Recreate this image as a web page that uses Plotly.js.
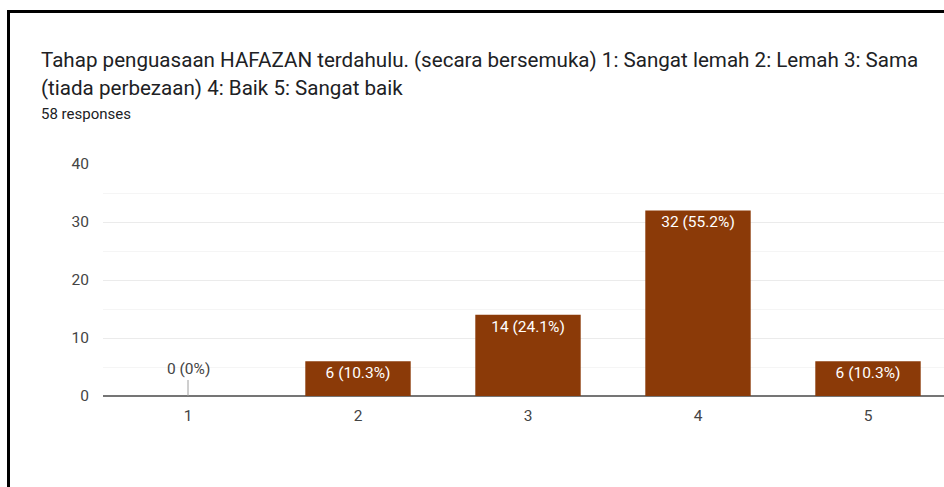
<!DOCTYPE html>
<html>
<head>
<meta charset="utf-8">
<script src="https://cdn.plot.ly/plotly-3.0.1.min.js"></script>
<style>
  html, body { margin: 0; padding: 0; background: #ffffff; overflow: hidden; }
  #frame { position: absolute; left: 7px; top: 10px; width: 1000px; height: 600px;
           border-left: 3px solid #000; border-top: 3px solid #000; }
  #chart { position: absolute; left: 0; top: 0; width: 944px; height: 487px; }
</style>
</head>
<body>
<div id="frame"></div>
<div id="chart"></div>
<script>
const categories = ['1', '2', '3', '4', '5'];
const counts = [0, 6, 14, 32, 6];
const labels = ['0 (0%)', '6 (10.3%)', '14 (24.1%)', '32 (55.2%)', '6 (10.3%)'];
const titleLines = [
  'Tahap penguasaan HAFAZAN terdahulu. (secara bersemuka) 1: Sangat lemah 2: Lemah 3: Sama',
  '(tiada perbezaan) 4: Baik 5: Sangat baik'
];
const subtitle = '58 responses';
const yTicks = [0, 10, 20, 30, 40];

const W = 944, H = 487;
const mL = 103, mR = 0, mT = 164, mB = 91;
const pw = W - mL - mR, ph = H - mT - mB;
const px = x => (x - mL) / pw;
const py = y => (H - mB - y) / ph;

const barColor = '#8b3a08';
const FONT = 'Roboto, Arial, sans-serif';

const trace = {
  type: 'bar',
  x: categories.map(Number),
  y: counts,
  text: counts.map((v, i) => v > 0 ? labels[i] : ''),
  textposition: 'inside',
  insidetextanchor: 'end',
  textangle: 0,
  textfont: { family: FONT, size: 15.5, color: '#ffffff' },
  constraintext: 'none',
  marker: { color: barColor, line: { width: 0 } },
  width: 0.62,
  hoverinfo: 'none',
  cliponaxis: false
};

const annotations = [];
counts.forEach((v, i) => {
  if (v === 0) {
    annotations.push({
      x: Number(categories[i]), y: v, xref: 'x', yref: 'y',
      text: labels[i], showarrow: true, arrowhead: 0, arrowwidth: 1,
      arrowcolor: '#9e9e9e', ax: 0, ay: -16, standoff: 0,
      font: { family: FONT, size: 15.5, color: '#444444' },
      yanchor: 'bottom'
    });
  }
});
titleLines.forEach((t, i) => {
  annotations.push({
    xref: 'paper', yref: 'paper', x: px(39), y: py(60 + i * 28),
    xanchor: 'left', yanchor: 'middle', showarrow: false, text: t,
    font: { family: FONT, size: 20.6, color: '#202124' }
  });
});
annotations.push({
  xref: 'paper', yref: 'paper', x: px(39), y: py(114),
  xanchor: 'left', yanchor: 'middle', showarrow: false, text: subtitle,
  font: { family: FONT, size: 15, color: '#202124' }
});

const layout = {
  width: W, height: H,
  margin: { l: mL, r: mR, t: mT, b: mB, pad: 0 },
  paper_bgcolor: 'rgba(0,0,0,0)',
  plot_bgcolor: 'rgba(0,0,0,0)',
  showlegend: false,
  font: { family: FONT, size: 15.5, color: '#444444' },
  xaxis: {
    range: [0.5, 0.5 + pw / 170],
    tickvals: categories.map(Number), ticktext: categories,
    showgrid: false, zeroline: false, showline: false, ticks: '',
    ticklabelstandoff: 8,
    tickfont: { size: 15.5, color: '#444444' },
    fixedrange: true
  },
  yaxis: {
    range: [0, 40],
    tickvals: yTicks,
    showgrid: true, gridcolor: '#ebebeb', gridwidth: 1,
    minor: { dtick: 5, showgrid: true, gridcolor: '#f5f5f5', gridwidth: 1 },
    zeroline: true, zerolinecolor: '#757575', zerolinewidth: 2,
    showline: false, ticks: '',
    ticklabelstandoff: 13,
    tickfont: { size: 15.5, color: '#444444' },
    fixedrange: true
  },
  annotations: annotations
};

Plotly.newPlot('chart', [trace], layout, { displayModeBar: false, staticPlot: true });
</script>
</body>
</html>
